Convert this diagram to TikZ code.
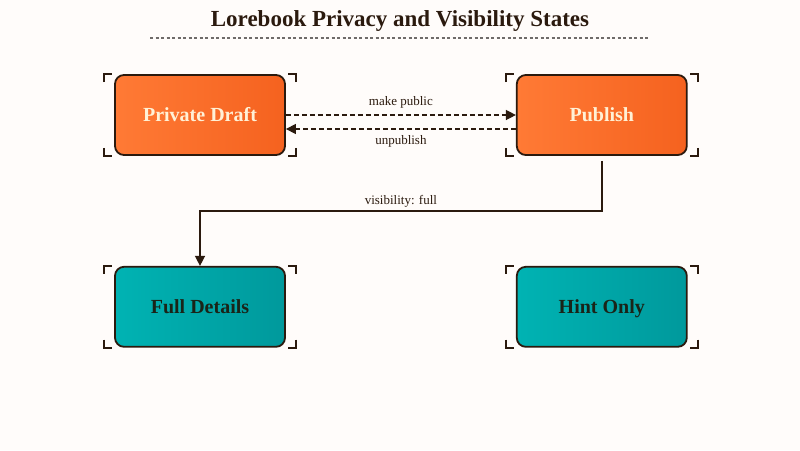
\documentclass[tikz,border=0pt]{standalone}
\usepackage{fontspec}
\setmainfont{Liberation Serif}
\usepackage{xcolor}
\usetikzlibrary{arrows.meta, positioning, calc}

\definecolor{bgpaper}{HTML}{FFFCFA}
\definecolor{inkbrown}{HTML}{2B1A0E}
\definecolor{orangelt}{HTML}{FF7A35}
\definecolor{orangedk}{HTML}{F5621F}
\definecolor{teallt}{HTML}{00B3B3}
\definecolor{tealdk}{HTML}{00999C}
\definecolor{creamtxt}{HTML}{FFF1D6}
\definecolor{darktxt}{HTML}{1A2418}

\begin{document}
\begin{tikzpicture}[
  x=1pt, y=-1pt,
  node distance=110pt and 230pt,
  state/.style={rectangle, draw=inkbrown, line width=1.8pt, rounded corners=9pt,
                minimum width=170pt, minimum height=80pt, text height=15pt, text depth=2pt,
                font=\fontsize{20}{22}\selectfont\bfseries},
  hot/.style={state, left color=orangelt, right color=orangedk, text=creamtxt},
  cool/.style={state, left color=teallt, right color=tealdk, text=darktxt},
  arrow/.style={-{Triangle[length=10pt, width=10pt]}, line width=1.4pt, draw=inkbrown},
  dasharrow/.style={arrow, dash pattern=on 5pt off 3pt},
  lbl/.style={font=\fontsize{13}{15}\selectfont, text=inkbrown, inner sep=1pt},
  bracket/.style={draw=inkbrown, line width=1.8pt},
]
  % page
  \fill[bgpaper] (0,0) rectangle (800,450);
  \useasboundingbox (0,0) rectangle (800,450);

  % title
  \node[font=\fontsize{23}{26}\selectfont\bfseries, text=inkbrown] (title) at (400,21) {Lorebook Privacy and Visibility States};
  \draw[gray!80!inkbrown, line width=1.2pt, dash pattern=on 3pt off 2.5pt] (150,38) -- (650,38);

  % states
  \node[hot] (draft) at (200,115) {Private Draft};
  \node[hot, right=of draft] (publish) {Publish};
  \node[cool, below=of draft] (full) {Full Details};
  \node[cool, below=of publish] (hint) {Hint Only};

  % corner brackets
  \foreach \n in {draft, publish, full, hint} {
    \draw[bracket] ($(\n.north west)+(-10,8)$) -- ($(\n.north west)+(-10,0)$) -- ($(\n.north west)+(-2,0)$);
    \draw[bracket] ($(\n.north east)+(10,8)$) -- ($(\n.north east)+(10,0)$) -- ($(\n.north east)+(2,0)$);
    \draw[bracket] ($(\n.south west)+(-10,-8)$) -- ($(\n.south west)+(-10,0)$) -- ($(\n.south west)+(-2,0)$);
    \draw[bracket] ($(\n.south east)+(10,-8)$) -- ($(\n.south east)+(10,0)$) -- ($(\n.south east)+(2,0)$);
  }

  % transitions
  \draw[dasharrow] (draft.east) -- node[lbl, above=5pt] {make public} (publish.west);
  \draw[dasharrow] ([yshift=-14pt]publish.west) -- node[lbl, below=5pt] {unpublish} ([yshift=-14pt]draft.east);
  \draw[arrow] ([yshift=-5pt]publish.south) -- ++(0,50) -| node[lbl, pos=0.25, above=2pt] {visibility: full} (full.north);
\end{tikzpicture}
\end{document}
